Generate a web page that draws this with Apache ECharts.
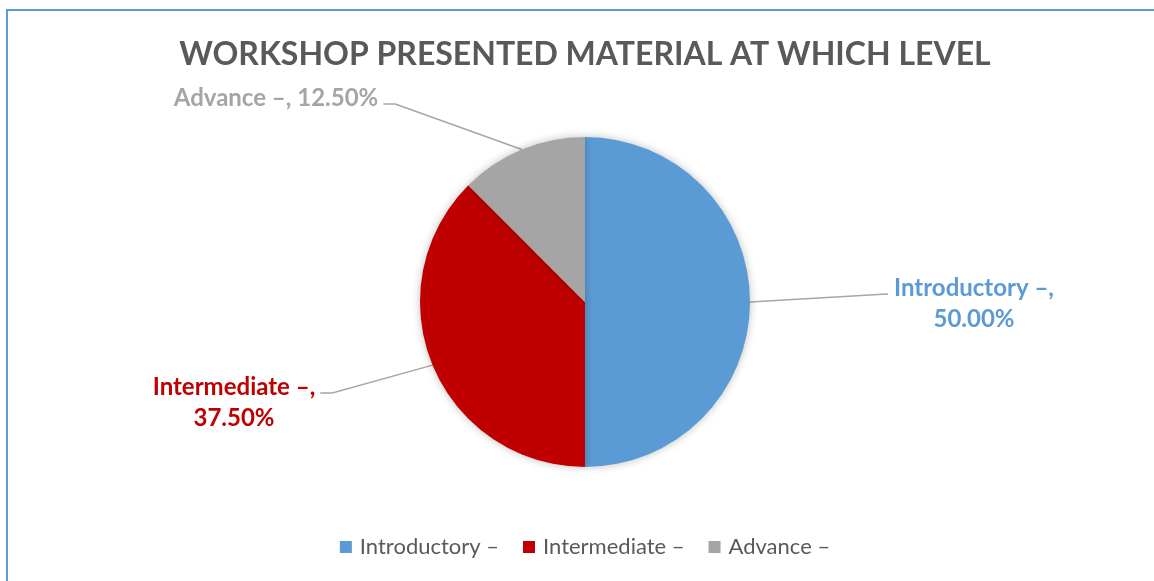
<!DOCTYPE html>
<html>
<head>
<meta charset="utf-8">
<script src="https://cdn.jsdelivr.net/npm/echarts@6/dist/echarts.min.js"></script>
<style>
  html, body { margin: 0; padding: 0; background: #fff; overflow: hidden; }
  .frame {
    position: absolute; left: 6px; top: 9px; width: 1200px; height: 620px;
    border: 2px solid #5B9BD5; box-sizing: border-box;
  }
  .pie-echart { position: absolute; left: 0; top: 0; width: 1170px; height: 581px; }
</style>
</head>
<body>
<div class="frame"></div>
<div class="pie-echart" id="pieEchart"></div>
<script>
var levels = ['Introductory –', 'Intermediate –', 'Advance –']
var shares = [50, 37.5, 12.5]
var colors = ['#5B9BD5', '#C00000', '#A5A5A5']

// where each outside label sits (centre of text block) and the y of its leader end
var labelSpots = [
  { x: 974, y: 304, lineDy: -10, side: 'right' },
  { x: 234, y: 403, lineDy: -10, side: 'left' },
  { x: 276, y: 98, lineDy: 6, side: 'left' }
]

var echart = echarts.init(document.getElementById('pieEchart'))

var option = {
  color: colors,
  title: {
    text: 'WORKSHOP PRESENTED MATERIAL AT WHICH LEVEL',
    left: 'center',
    top: 34,
    textStyle: {
      color: '#595959',
      fontFamily: 'Lato',
      fontWeight: 'bold',
      fontSize: 32
    }
  },
  legend: {
    bottom: 18,
    left: 'center',
    icon: 'rect',
    itemWidth: 12,
    itemHeight: 12,
    itemGap: 24,
    textStyle: {
      color: '#595959',
      fontFamily: 'Lato',
      fontSize: 22,
      padding: [0, 0, 0, 3]
    },
    data: levels
  },
  series: [{
    type: 'pie',
    center: [585, 302],
    radius: 165,
    startAngle: 90,
    clockwise: true,
    animation: false,
    itemStyle: {
      shadowBlur: 8,
      shadowColor: 'rgba(0,0,0,0.25)'
    },
    label: {
      show: true,
      position: 'outside',
      fontFamily: 'Lato',
      fontWeight: 'bold',
      fontSize: 24,
      lineHeight: 31,
      formatter: function (p) {
        var pct = p.percent.toFixed(2) + '%'
        return p.dataIndex === 2 ? p.name + ', ' + pct : p.name + ',\n' + pct
      }
    },
    labelLine: {
      show: true,
      length: 20,
      length2: 12,
      lineStyle: { color: '#A6A6A6', width: 1.5 }
    },
    labelLayout: function (params) {
      var spot = labelSpots[params.dataIndex]
      var w = params.labelRect.width
      var p0 = params.labelLinePoints[0]
      var ly = spot.y + spot.lineDy
      var p1, p2
      if (spot.side === 'right') {
        p2 = [spot.x - w / 2 - 6, ly]
        p1 = [p2[0] - 1, ly]
      } else {
        p2 = [spot.x + w / 2 + 5, ly]
        p1 = [p2[0] + 12, ly]
      }
      return {
        x: spot.x,
        y: spot.y,
        align: 'center',
        verticalAlign: 'middle',
        labelLinePoints: [p0, p1, p2]
      }
    },
    data: levels.map(function (name, i) {
      return { name: name, value: shares[i], label: { color: colors[i] } }
    })
  }]
}

echart.setOption(option)
</script>
</body>
</html>
